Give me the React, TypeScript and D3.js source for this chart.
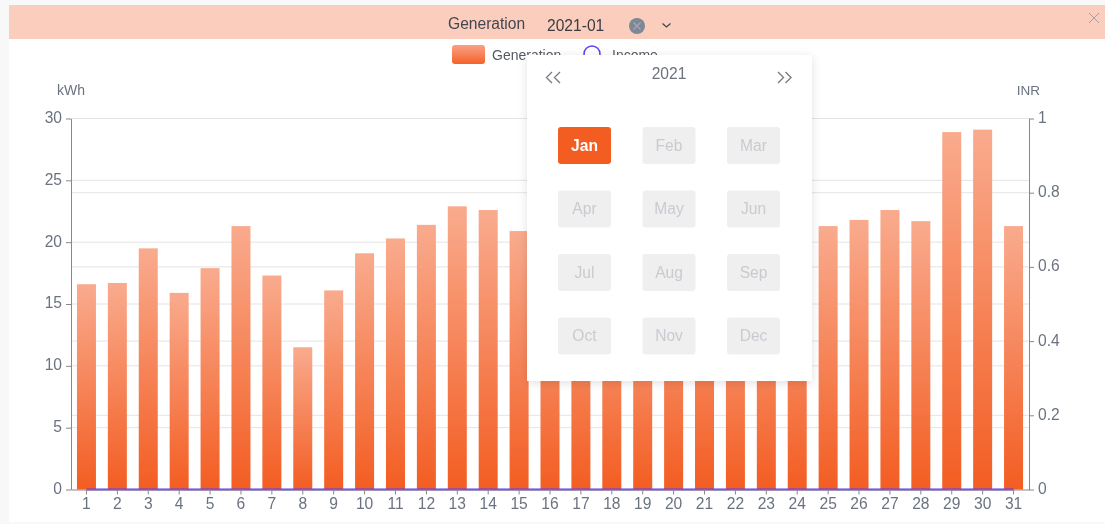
import React, { useEffect, useRef } from 'react';
import * as d3 from 'd3';

const days = d3.range(1, 32).map(String);
// days 16-24 are mostly behind the month picker, their tops are estimated
const generation = [16.6, 16.7, 19.5, 15.9, 17.9, 21.3, 17.3, 11.5, 16.1, 19.1, 20.3, 21.4, 22.9, 22.6, 20.9, 19.5, 20.2, 18.6, 17.4, 19.8, 21.0, 18.3, 19.2, 20.4, 21.3, 21.8, 22.6, 21.7, 28.9, 29.1, 21.3];
const income = days.map(() => 0);
const leftTicks = [0, 5, 10, 15, 20, 25, 30];
const rightTicks = [0, 0.2, 0.4, 0.6, 0.8, 1];
const months = ['Jan', 'Feb', 'Mar', 'Apr', 'May', 'Jun', 'Jul', 'Aug', 'Sep', 'Oct', 'Nov', 'Dec'];

const width = 1105;
const height = 524;
const margin = { top: 118.5, right: 76, bottom: 34.5, left: 71 };
const font = "'Liberation Sans', Arial, sans-serif";
const axisText = '#6b7280';
const axisLine = '#8f8583';
const gridLine = '#e4e4e4';

export default function App() {
  const ref = useRef<SVGSVGElement>(null);

  useEffect(() => {
    const svg = d3.select(ref.current);
    svg.selectAll('*').remove();

    const defs = svg.append('defs');
    const grad = defs.append('linearGradient').attr('id', 'barFill').attr('x1', 0).attr('y1', 0).attr('x2', 0).attr('y2', 1);
    grad.append('stop').attr('offset', '0%').attr('stop-color', '#f9ab8e');
    grad.append('stop').attr('offset', '100%').attr('stop-color', '#f35d22');
    const shadow = defs.append('filter').attr('id', 'popShadow').attr('x', '-10%').attr('y', '-10%').attr('width', '120%').attr('height', '120%');
    shadow.append('feDropShadow').attr('dx', 0).attr('dy', 2).attr('stdDeviation', 5).attr('flood-color', '#000').attr('flood-opacity', 0.12);

    const x = d3.scaleBand().domain(days).range([margin.left, width - margin.right]);
    const yLeft = d3.scaleLinear().domain([0, 30]).range([height - margin.bottom, margin.top]);
    const yRight = d3.scaleLinear().domain([0, 1]).range([height - margin.bottom, margin.top]);

    // page frame and title strip
    svg.append('rect').attr('width', width).attr('height', height).attr('fill', '#f8f8f8');
    svg.append('rect').attr('x', 9).attr('y', 5).attr('width', width - 9).attr('height', height - 7).attr('fill', '#fff');
    svg.append('rect').attr('x', 9).attr('y', 5).attr('width', width - 9).attr('height', 34).attr('fill', '#fbcdbc');

    const label = (xp: number, yp: number, t: string, size: number, fill: string, anchor = 'start', weight = 'normal') =>
      svg.append('text').attr('x', xp).attr('y', yp).attr('font-family', font).attr('font-size', size)
        .attr('fill', fill).attr('text-anchor', anchor).attr('font-weight', weight).text(t);

    label(448, 29, 'Generation', 15.6, '#43464f');
    label(547, 31, '2021-01', 15.6, '#3d3a44');
    svg.append('circle').attr('cx', 637).attr('cy', 26).attr('r', 8).attr('fill', '#7f8795');
    svg.append('path').attr('d', 'M633.5 22.5L640.5 29.5M640.5 22.5L633.5 29.5').attr('stroke', '#a3a9b3').attr('stroke-width', 1.2);
    svg.append('path').attr('d', 'M662.5 23.5L666.5 27L670.5 23.5').attr('fill', 'none').attr('stroke', '#43464f').attr('stroke-width', 1.3);
    svg.append('path').attr('d', 'M1089 13L1099 23M1099 13L1089 23').attr('stroke', '#a89f9c').attr('stroke-width', 1);

    // legend
    const legendGrad = defs.append('linearGradient').attr('id', 'legendFill').attr('x1', 0).attr('y1', 0).attr('x2', 0).attr('y2', 1);
    legendGrad.append('stop').attr('offset', '0%').attr('stop-color', '#f9a184');
    legendGrad.append('stop').attr('offset', '100%').attr('stop-color', '#f5622a');
    svg.append('rect').attr('x', 452).attr('y', 45).attr('width', 33).attr('height', 19).attr('rx', 3).attr('fill', 'url(#legendFill)');
    label(492, 60, 'Generation', 14, '#555a63');
    svg.append('circle').attr('cx', 592).attr('cy', 54).attr('r', 8).attr('fill', '#fff').attr('stroke', '#5b3ff0').attr('stroke-width', 1.5);
    label(612, 60, 'Income', 14, '#555a63');

    // unit names
    label(57, 95, 'kWh', 14, axisText);
    label(1040, 95, 'INR', 13.5, axisText, 'end');

    // grid lines for both value axes
    const grid = svg.append('g').attr('stroke', gridLine).attr('stroke-width', 1);
    leftTicks.filter(d => d > 0).forEach(d => {
      grid.append('line').attr('x1', margin.left).attr('x2', width - margin.right).attr('y1', yLeft(d)).attr('y2', yLeft(d));
    });
    rightTicks.filter(d => d > 0 && d < 1).forEach(d => {
      grid.append('line').attr('x1', margin.left).attr('x2', width - margin.right).attr('y1', yRight(d)).attr('y2', yRight(d));
    });

    // bars
    const barWidth = 19;
    svg.append('g').selectAll('rect').data(generation).enter().append('rect')
      .attr('x', (d, i) => (x(days[i]) as number) + (x.bandwidth() - barWidth) / 2)
      .attr('y', d => yLeft(d))
      .attr('width', barWidth)
      .attr('height', d => yLeft(0) - yLeft(d))
      .attr('fill', 'url(#barFill)');

    // income line, flat on zero
    const line = d3.line<number>()
      .x((d, i) => (x(days[i]) as number) + x.bandwidth() / 2)
      .y(d => yRight(d));
    svg.append('path').datum(income).attr('d', line).attr('fill', 'none').attr('stroke', '#5b3ff0').attr('stroke-width', 2);

    // axes
    const styleAxis = (g: any) => {
      g.selectAll('path,line').attr('stroke', axisLine);
      g.selectAll('text').attr('fill', axisText).attr('font-family', font).attr('font-size', 15.6);
    };
    svg.append('g').attr('transform', `translate(0,${height - margin.bottom})`)
      .call(d3.axisBottom(x).tickSize(5).tickPadding(3).tickSizeOuter(0)).call(styleAxis);
    svg.append('g').attr('transform', `translate(${margin.left},0)`)
      .call(d3.axisLeft(yLeft).tickValues(leftTicks).tickSize(5).tickPadding(4).tickSizeOuter(0)).call(styleAxis)
      .selectAll('text').attr('dy', '0.25em');
    svg.append('g').attr('transform', `translate(${width - margin.right},0)`)
      .call(d3.axisRight(yRight).tickValues(rightTicks).tickFormat(d => String(d)).tickSize(5).tickPadding(4).tickSizeOuter(0)).call(styleAxis)
      .selectAll('text').attr('dy', '0.25em');

    // month picker dropdown on top of the chart
    svg.append('rect').attr('x', 527).attr('y', 55).attr('width', 285).attr('height', 326).attr('fill', '#fff').attr('filter', 'url(#popShadow)');
    label(669, 79, '2021', 15.6, '#6b7280', 'middle');
    svg.append('path').attr('d', 'M552 72L546.5 77.5L552 83M560 72L554.5 77.5L560 83M778 72L783.5 77.5L778 83M785.5 72L791 77.5L785.5 83')
      .attr('fill', 'none').attr('stroke', '#777c85').attr('stroke-width', 1.4);

    const col = d3.scalePoint().domain(['0', '1', '2']).range([584.5, 753.5]);
    const row = d3.scalePoint().domain(['0', '1', '2', '3']).range([145.5, 336]);
    months.forEach((m, i) => {
      const cx = col(String(i % 3)) as number;
      const cy = row(String(Math.floor(i / 3))) as number;
      const active = i === 0;
      svg.append('rect').attr('x', cx - 26.5).attr('y', cy - 18.5).attr('width', 53).attr('height', 37).attr('rx', 3)
        .attr('fill', active ? '#f35d22' : '#efefef');
      label(cx, cy + 5, m, 15.6, active ? '#fff' : '#c9cbd0', 'middle', active ? 'bold' : 'normal');
    });
  }, []);

  return <svg ref={ref} width={width} height={height} style={{ position: 'absolute', left: 0, top: 0, display: 'block', filter: 'blur(0.35px)' }} />;
}
